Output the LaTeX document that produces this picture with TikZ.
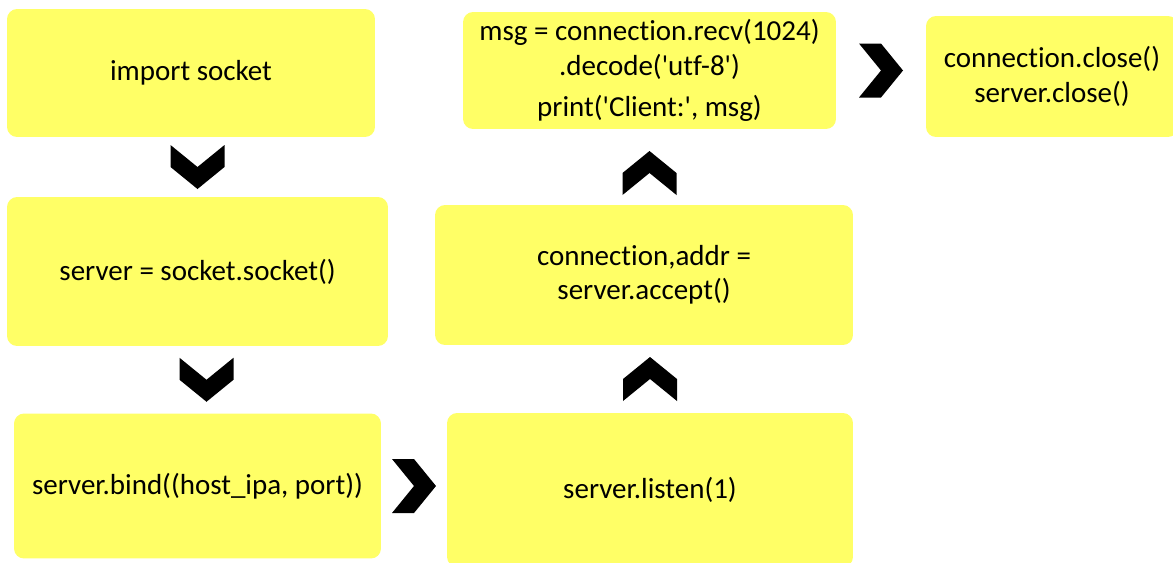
\documentclass[tikz,border=0pt]{standalone}
\usepackage{fontspec}
\setmainfont{Carlito}[Ligatures={TeXOff,NoCommon}]
\usetikzlibrary{calc}
\definecolor{boxyellow}{RGB}{255,255,102}
\tikzset{
  codebox/.style={fill=boxyellow, rounded corners=5.7pt, align=center, inner sep=2pt,
    font=\fontsize{16.5}{19.5}\selectfont},
  chevron/.pic={\fill[black] (-22,27) -- (0,27) -- (22,0) -- (0,-27) -- (-22,-27) -- (0,0) -- cycle;}
}

\begin{document}
\begin{tikzpicture}[x=0.02cm, y=-0.02cm]
    \useasboundingbox (0,0) rectangle (1173,562);

    % left column
    \node[codebox, minimum width=7.36cm, minimum height=2.56cm] (imp) at (191,73) {import socket};
    \node[codebox, minimum width=7.62cm, minimum height=2.98cm] (sock) at (197.5,271.5) {server = socket.socket()};
    \node[codebox, minimum width=7.34cm, minimum height=2.9cm] (bind) at (197.5,486) {server.bind((host\_ipa, port))};

    % middle column
    \node[codebox, minimum width=8.12cm, minimum height=3.08cm] (listen) at (650,490) {server.listen(1)};
    \node[codebox, minimum width=8.36cm, minimum height=2.8cm] (accept) at (644,275) {connection,addr =\\ server.accept()};
    \node[codebox, minimum width=7.46cm, minimum height=2.34cm] (recv) at (649.5,70.5)
      {msg = connection.recv(1024)\\ .decode('utf-8')\\[4pt] print('Client:', msg)};

    % right column
    \node[codebox, minimum width=5.04cm, minimum height=2.42cm] (close) at (1052,76.5) {connection.close()\\ server.close()};

    % chevrons
    \pic[rotate=-90] at ($(imp.south -| sock.north)!0.5!(sock.north)$) {chevron};
    \pic[rotate=-90] at ($(sock.south)!0.5!(bind.north)+(9,0)$) {chevron};
    \pic at ($(bind.east)!0.5!(listen.west |- bind.east)$) {chevron};
    \pic[rotate=90] at ($(listen.north)!0.5!(accept.south -| listen.north)$) {chevron};
    \pic[rotate=90] at ($(accept.north -| recv.south)!0.5!(recv.south)+(0,6)$) {chevron};
    \pic at ($(recv.east)!0.5!(close.west |- recv.east)$) {chevron};

\end{tikzpicture}
\end{document}
